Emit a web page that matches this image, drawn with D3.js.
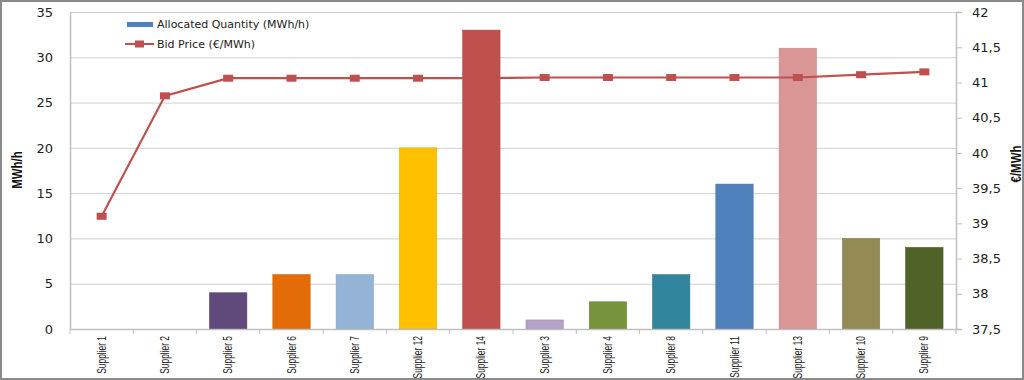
<!DOCTYPE html>
<html><head><meta charset="utf-8">
<script src="https://cdn.jsdelivr.net/npm/d3@7"></script>
<style>
html,body{margin:0;padding:0;background:#fff;}
svg{display:block;}
</style></head>
<body>
<svg id="c" width="1024" height="380"></svg>
<script>
const categories = ["Supplier 1","Supplier 2","Supplier 5","Supplier 6","Supplier 7","Supplier 12","Supplier 14","Supplier 3","Supplier 4","Supplier 8","Supplier 11","Supplier 13","Supplier 10","Supplier 9"];
const quantity = [0,0,4,6,6,20,33,1,3,6,16,31,10,9];
const bidPrice = [39.1,40.81,41.06,41.06,41.06,41.06,41.06,41.07,41.07,41.07,41.07,41.07,41.11,41.15];
const barColors = ["#4F81BD","#4F81BD","#604A7B","#E36C09","#95B3D7","#FFC000","#C0504D","#B3A2C7","#77933C","#31859C","#4F81BD","#D99694","#948A54","#4F6228"];
const leftTicks = [0,5,10,15,20,25,30,35];
const rightTicks = [37.5,38,38.5,39,39.5,40,40.5,41,41.5,42];
const seriesNames = ["Allocated Quantity (MWh/h)","Bid Price (€/MWh)"];

const svg = d3.select("#c");
const W=1024,H=380;
const m={l:70,r:956,t:12,b:329};
const numFont = "'DejaVu Sans', Verdana, sans-serif";
const condFont = "'Liberation Sans Narrow','Arial Narrow','Liberation Sans',sans-serif";

svg.append("rect").attr("x",1).attr("y",1).attr("width",W-2).attr("height",H-2)
  .attr("fill","#fff").attr("stroke","#8a8a8a").attr("stroke-width",2);

const x = d3.scaleBand().domain(categories).range([m.l,m.r]).paddingInner(0.41).paddingOuter(0.205);
const xb = d3.scaleBand().domain(categories).range([m.l,m.r]);
const yL = d3.scaleLinear().domain([0,35]).range([m.b,m.t]);
const yR = d3.scaleLinear().domain([37.5,42]).range([m.b,m.t]);

// gridlines
svg.append("g").selectAll("line").data(leftTicks.filter(d=>d>0)).join("line")
  .attr("x1",m.l).attr("x2",m.r).attr("y1",d=>yL(d)+0.5).attr("y2",d=>yL(d)+0.5)
  .attr("stroke","#d0d0d0").attr("stroke-width",1);

// left axis
const gl = svg.append("g").attr("transform",`translate(${m.l},0)`)
  .call(d3.axisLeft(yL).tickValues(leftTicks).tickSize(0).tickPadding(17));
gl.select(".domain").attr("stroke","#bfbfbf").attr("stroke-width",1.5);
gl.selectAll("text").attr("font-family",numFont).attr("font-size",13).attr("fill","#222");

// right axis
const gr = svg.append("g").attr("transform",`translate(${m.r},0)`)
  .call(d3.axisRight(yR).tickValues(rightTicks).tickSize(6).tickPadding(10)
    .tickFormat(d=>String(d).replace(".",",")));
gr.select(".domain").attr("stroke","#bfbfbf").attr("stroke-width",1.5);
gr.selectAll(".tick line").attr("stroke","#bfbfbf");
gr.selectAll("text").attr("font-family",numFont).attr("font-size",13).attr("fill","#222");

// bars
svg.append("g").selectAll("rect").data(categories).join("rect")
  .attr("x",d=>x(d)).attr("width",x.bandwidth())
  .attr("y",(d,i)=>yL(quantity[i])).attr("height",(d,i)=>yL(0)-yL(quantity[i]))
  .attr("fill",(d,i)=>barColors[i])
  .attr("stroke",(d,i)=>d3.color(barColors[i]).darker(0.3)).attr("stroke-width",0.6);

// x axis
const gx = svg.append("g").attr("transform",`translate(0,${m.b})`)
  .call(d3.axisBottom(xb).tickSize(0).tickPadding(0));
gx.select(".domain").attr("stroke","#bfbfbf").attr("stroke-width",1.5);
gx.selectAll(".tick text").remove();
// tick marks between categories
svg.append("g").selectAll("line").data(d3.range(categories.length+1)).join("line")
  .attr("x1",i=>m.l+i*xb.step()).attr("x2",i=>m.l+i*xb.step())
  .attr("y1",m.b).attr("y2",m.b+5).attr("stroke","#bfbfbf");
svg.append("g").selectAll("text").data(categories).join("text")
  .attr("transform",d=>`translate(${xb(d)+xb.bandwidth()/2+4},${m.b+7}) rotate(-90) scale(0.7,1)`)
  .attr("text-anchor","end").attr("font-family",condFont).attr("font-size",12).attr("fill","#222")
  .text(d=>d);

// line
const line = d3.line().x((d,i)=>xb(categories[i])+xb.bandwidth()/2).y(d=>yR(d));
svg.append("path").datum(bidPrice).attr("d",line).attr("fill","none")
  .attr("stroke","#C0504D").attr("stroke-width",2.2);
svg.append("g").selectAll("rect").data(bidPrice).join("rect")
  .attr("x",(d,i)=>xb(categories[i])+xb.bandwidth()/2-5).attr("y",d=>yR(d)-3.5)
  .attr("width",10).attr("height",7).attr("fill","#C0504D");

// axis titles
svg.append("text").attr("transform","translate(22,170) rotate(-90) scale(0.82,1)").attr("text-anchor","middle")
  .attr("font-family",condFont).attr("font-weight","bold").attr("font-size",14).attr("fill","#111").text("MWh/h");
svg.append("text").attr("transform","translate(1021,164) rotate(-90) scale(0.82,1)").attr("text-anchor","middle")
  .attr("font-family",condFont).attr("font-weight","bold").attr("font-size",14).attr("fill","#111").text("€/MWh");

// legend
const lg = svg.append("g");
lg.append("rect").attr("x",127).attr("y",22).attr("width",26).attr("height",5).attr("fill","#4F81BD");
lg.append("text").attr("x",157).attr("y",28).attr("font-family",numFont).attr("font-size",11).attr("fill","#222").text(seriesNames[0]);
lg.append("line").attr("x1",125).attr("x2",154).attr("y1",44).attr("y2",44).attr("stroke","#C0504D").attr("stroke-width",2);
lg.append("rect").attr("x",135).attr("y",40.5).attr("width",9).attr("height",7).attr("fill","#C0504D");
lg.append("text").attr("x",157).attr("y",48).attr("font-family",numFont).attr("font-size",11).attr("fill","#222").text(seriesNames[1]);
</script>
</body></html>
